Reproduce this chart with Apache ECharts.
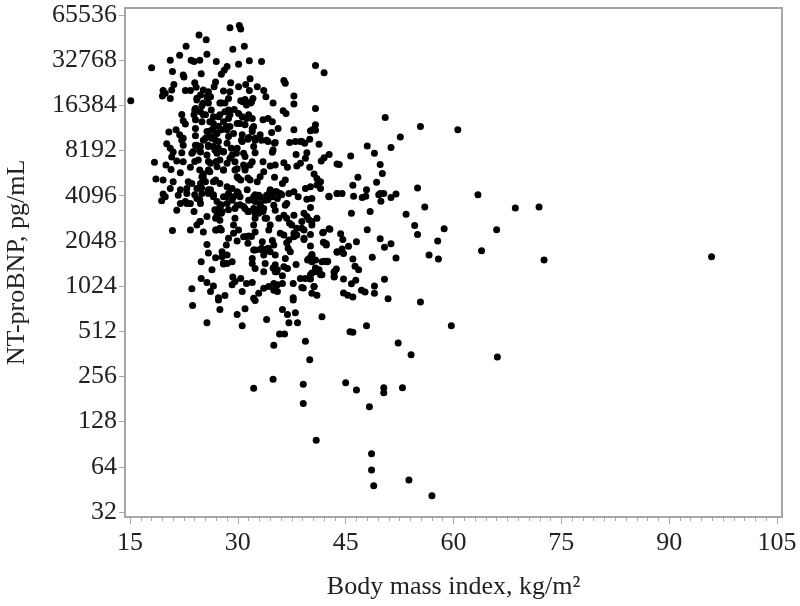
<!DOCTYPE html>
<html>
<head>
<meta charset="utf-8">
<title>NT-proBNP vs BMI</title>
<style>
html, body { margin: 0; padding: 0; background: #fff; }
#main { width: 800px; height: 606px; }
</style>
<script src="https://cdn.jsdelivr.net/npm/echarts@6/dist/echarts.min.js"></script>
</head>
<body>
<div id="main"></div>
<script>
// tick labels
var xTicks = [15, 30, 45, 60, 75, 90, 105];
var yTicks = [32, 64, 128, 256, 512, 1024, 2048, 4096, 8192, 16384, 32768, 65536];

// [bmi, log2 of NT-proBNP]
var points = [
[15.1,14.10],[18.0,14.83],[20.6,15.0],[21.9,15.11],[22.8,15.31],[24.6,15.56],[25.6,15.45],[25.7,15.13],[28.9,15.72],[30.2,15.77],[30.4,15.69],
[29.3,15.24],[30.9,15.31],[23.5,15.0],[23.9,14.97],[24.7,15.0],[27.0,14.97],[30.1,14.91],[31.6,14.99],[33.3,14.97],[28.5,14.86],[28.1,14.78],[27.7,14.69],
[20.9,14.75],[22.4,14.67],[22.5,14.63],[24.9,14.70],[40.8,14.88],[42.0,14.72],[31.7,14.59],[29.0,14.50],[26.9,14.52],[26.7,14.41],[24.0,14.50],[24.2,14.40],
[21.1,14.46],[20.8,14.34],[19.6,14.33],[19.5,14.21],[19.9,14.27],[20.6,14.15],[22.7,14.33],[23.4,14.33],[30.1,14.41],[31.1,14.46],[32.7,14.41],[31.6,14.33],
[33.6,14.33],[33.9,14.19],[36.4,14.55],[36.6,14.49],[37.8,14.21],[37.8,14.03],[34.9,14.05],[28.0,14.32],[28.9,14.30],[25.2,14.34],[25.9,14.30],[24.8,14.23],
[25.7,14.19],[24.3,14.16],[26.2,14.19],[28.7,14.15],[27.5,14.05],[28.2,14.05],[30.4,14.10],[31.0,14.13],[32.1,14.15],[31.8,14.05],[31.2,14.01],[25.9,14.05],
[25.0,13.99],[24.1,13.93],[24.8,13.86],[23.9,13.79],[40.8,13.93],[36.3,13.88],[36.7,13.82],[29.5,13.91],[30.1,13.82],[22.2,13.80],[22.4,13.66],[22.7,13.59],
[25.5,13.79],[26.6,13.75],[27.5,13.79],[28.2,13.86],[28.7,13.71],[30.6,13.75],[31.5,13.79],[32.0,13.71],[33.5,13.68],[34.2,13.71],[34.8,13.64],[40.8,13.57],
[40.5,13.47],[40.1,13.44],[40.8,13.45],[37.8,13.46],[35.6,13.49],[34.7,13.40],[20.4,13.41],[21.4,13.46],[21.9,13.35],[22.4,13.27],[22.2,13.23],[24.1,13.68],
[25.0,13.64],[24.1,13.49],[24.1,13.33],[26.6,13.60],[27.3,13.54],[28.0,13.64],[28.9,13.53],[29.9,13.60],[31.0,13.57],[32.0,13.49],[32.2,13.53],[25.7,13.42],
[26.4,13.46],[27.1,13.38],[26.2,13.31],[25.5,13.27],[26.9,13.23],[28.5,13.46],[28.7,13.31],[28.5,13.16],[30.6,13.35],[31.5,13.29],[32.4,13.27],[33.1,13.35],
[34.0,13.23],[35.2,13.18],[30.6,13.2],[32.0,13.42],[37.2,13.18],[38.0,13.2],[38.9,13.2],[40.0,13.25],[41.3,13.14],[20.1,13.15],[20.6,13.05],[24.1,13.12],
[24.8,13.09],[25.9,13.12],[26.6,13.09],[27.3,13.05],[22.4,13.12],[32.2,13.09],[29.9,13.05],[34.9,13.01],[39.3,13.16],[38.7,13.2],
[18.4,12.74],[20.0,12.68],[20.7,12.58],[21.0,12.97],[22.2,12.95],[20.8,12.86],[21.5,12.77],[22.4,12.75],[23.4,12.63],[22.0,12.51],[23.6,12.94],[24.8,12.97],
[25.7,12.9],[24.5,12.79],[26.2,12.72],[27.1,12.94],[28.0,12.97],[29.2,12.9],[30.8,12.94],[32.4,12.95],[27.5,12.79],[28.5,12.72],[29.6,12.75],[30.8,12.68],
[32.0,12.75],[27.1,12.64],[25.9,12.57],[25.2,12.48],[28.0,12.57],[29.9,12.60],[33.5,12.75],[34.8,12.96],[38.1,12.91],[39.6,12.95],[39.4,12.83],[36.4,12.73],
[35.2,12.68],[34.5,12.66],[36.9,12.63],[42.7,12.91],[42.0,12.84],[41.6,12.77],[38.7,12.72],[38.2,12.66],[40.0,12.63],[43.8,12.70],[33.6,12.53],[33.1,12.42],
[31.0,12.57],[29.9,12.42],[30.4,12.35],[32.7,12.31],[31.7,12.35],[35.1,12.41],[36.6,12.35],[36.2,12.27],[40.6,12.48],[41.0,12.38],[41.5,12.31],[41.0,12.24],
[40.1,12.2],[39.4,12.16],[41.5,12.16],[18.6,12.37],[19.6,12.35],[21.0,12.31],[20.6,12.16],[23.1,12.31],[23.6,12.27],[22.9,12.16],[25.0,12.42],[25.5,12.31],
[24.8,12.27],[24.3,12.16],[25.0,12.05],[26.9,12.35],[27.5,12.27],[28.5,12.2],[22.0,12.13],[22.9,12.05],[21.7,12.01],[19.6,12.04],[19.4,11.89],[19.9,11.98],
[26.2,12.13],[26.6,11.98],[25.9,12.05],[29.2,12.16],[29.9,12.09],[28.7,12.05],[28.0,11.98],[34.5,12.13],[35.2,12.09],[35.9,12.05],[34.0,12.01],[34.8,11.98],
[35.5,11.94],[37.8,12.09],[37.1,12.05],[43.8,12.05],[42.7,11.98],[31.3,12.13],[32.2,11.98],[32.9,12.01],[32.4,11.87],[31.5,11.9],[30.3,11.98],[38.4,11.98],
[39.6,11.92],[40.3,11.94],[40.1,11.74],[24.3,11.94],[24.8,11.83],[22.7,11.87],[23.4,11.83],[22.0,11.83],[21.5,11.68],[23.9,11.65],[27.1,11.87],[27.5,11.76],
[26.9,11.68],[27.8,11.65],[27.1,11.57],[28.5,11.83],[29.2,11.9],[29.9,11.79],[29.6,11.72],[30.8,11.76],[31.5,11.65],[32.2,11.72],[33.1,11.79],[33.8,11.9],
[33.6,11.72],[32.9,11.61],[32.4,11.5],[35.0,11.79],[35.2,11.68],[36.6,11.79],[36.4,11.57],[35.7,11.5],[36.8,11.5],[37.8,11.57],[39.2,11.61],[39.6,11.54],
[41.0,11.5],[40.3,11.43],[38.9,11.43],[38.2,11.28],[39.2,11.24],[40.3,11.35],[29.6,11.5],[29.4,11.35],[27.5,11.46],[26.9,11.5],[25.7,11.54],[24.8,11.43],
[24.3,11.35],[27.5,11.28],[26.9,11.24],[25.2,11.2],[23.4,11.24],[20.9,11.23],[34.0,11.5],[34.5,11.35],[34.3,11.24],[32.2,11.35],[32.4,11.2],[30.1,11.24],
[29.4,11.17],[37.5,11.35],[37.8,11.17],[35.9,11.17],[36.4,11.13],[39.2,11.06],[37.8,11.09],[38.9,11.28],[37.1,11.02],[41.8,11.18],[42.8,11.26],[28.7,11.06],
[29.9,11.0],[28.4,10.91],[30.8,11.09],[31.5,11.11],[31.4,10.95],[25.7,10.92],[25.9,10.73],[26.9,10.63],[33.4,10.98],[34.8,11.01],[36.8,10.96],[37.0,10.84],
[37.3,10.76],[40.1,10.89],[42.0,10.96],[42.3,10.91],[43.8,10.76],[32.2,10.8],[33.1,10.81],[33.8,10.8],[34.5,10.76],[35.2,10.69],[33.6,10.69],[27.8,10.76],
[28.5,10.69],[27.8,10.65],[24.9,10.54],[32.0,10.61],[32.0,10.5],[32.4,10.39],[33.8,10.5],[33.6,10.32],[35.2,10.47],[35.5,10.36],[36.6,10.61],[36.4,10.43],
[36.9,10.39],[35.2,10.32],[38.1,10.48],[39.9,10.61],[40.3,10.69],[40.3,10.54],[41.7,10.54],[42.4,10.54],[28.0,10.49],[28.5,10.5],[29.2,10.54],[26.4,10.36],
[40.8,10.39],[41.0,10.32],[41.5,10.25],[40.1,10.25],[39.4,10.17],[38.7,10.17],[43.4,10.32],[43.4,10.21],[36.2,10.23],[24.9,10.17],[25.7,10.08],[26.6,10.0],
[26.2,9.88],[23.6,9.94],[29.3,10.2],[30.4,10.17],[29.2,10.03],[29.6,10.1],[31.2,10.06],[32.0,10.08],[33.6,9.95],[34.3,9.99],[35.0,10.06],[35.5,10.03],
[36.2,10.06],[35.0,9.91],[35.5,9.88],[37.7,10.06],[38.9,9.97],[40.6,9.99],[30.6,9.88],[32.9,9.84],[32.2,9.73],[27.3,9.74],[28.2,9.79],[37.7,9.74],[40.3,9.84],[41.0,9.8],
[23.7,9.57],[27.3,9.69],[32.4,9.68],[37.7,9.69],[27.5,9.48],[31.0,9.5],[29.9,9.37],[25.7,9.19],[30.6,9.12],[34.0,9.26],[36.2,9.48],[36.9,9.37],[38.0,9.41],
[37.1,9.19],[38.3,9.19],[41.7,9.32],[35.8,8.94],[36.5,8.94],[35.0,8.69],[39.4,8.78],[40.0,8.37],[34.9,7.94],[32.2,7.74],[39.1,7.83],[39.1,7.4],[40.9,6.59],
[50.5,13.73],[55.4,13.53],[60.6,13.46],[52.6,13.3],[51.3,13.07],[48.0,13.1],[49.0,12.94],[45.7,12.88],[44.1,12.69],[49.8,12.69],[50.1,12.49],[46.7,12.41],
[49.3,12.3],[46.0,12.23],[55.0,12.17],[63.4,12.02],[47.9,12.13],[43.8,12.05],[44.5,12.05],[42.65,11.99],[46.1,11.99],[47.3,11.96],[47.8,11.99],[49.8,12.05],
[50.3,12.05],[49.6,12.02],[49.9,11.88],[51.3,11.96],[52.0,12.04],[56.0,11.75],[68.6,11.73],[45.8,11.61],[48.4,11.65],[53.4,11.59],[54.6,11.34],[55.0,11.14],
[58.7,11.27],[66.0,11.25],[48.0,11.25],[57.8,11.0],[56.6,10.69],[57.9,10.6],[63.9,10.78],[49.8,11.05],[51.3,10.94],[50.4,10.86],[48.7,10.64],[52.0,10.62],
[44.3,11.16],[44.6,11.03],[45.4,10.88],[44.5,10.82],[43.8,10.75],[44.7,10.72],[46.5,10.98],[42.7,11.27],[41.9,11.19],[41.9,10.97],[42.3,10.94],[46.0,10.6],
[46.3,10.44],[46.8,10.36],[42.0,10.55],[42.5,10.55],[40.8,10.58],[39.7,10.58],[40.3,10.7],[43.7,10.38],[43.4,10.3],[43.4,10.2],[40.8,10.4],[41.3,10.36],
[41.7,10.25],[40.3,10.29],[40.1,10.16],[44.7,10.16],[46.4,10.13],[45.8,10.05],[50.4,10.15],[49.0,10.0],[49.0,9.84],[44.7,9.85],[45.3,9.8],[46.0,9.76],
[47.2,9.91],[47.7,9.87],[50.9,9.72],[55.4,9.65],[40.6,9.99],[39.1,9.96],[39.9,11.47],[40.1,11.14],[39.2,11.03],[47.9,9.12],[59.7,9.12],[45.6,8.99],[46.0,8.98],
[52.3,8.74],[54.1,8.48],[66.1,8.43],[45.0,7.86],[46.5,7.70],[50.3,7.75],[50.3,7.64],[52.9,7.75],[48.3,7.33],[48.6,6.29],[48.6,5.93],[48.9,5.58],[53.8,5.71],
[57.0,5.36],[95.9,10.65],[72.6,10.58],[71.9,11.75],
// denser middle of the cloud
[24.3,14.12],[25.2,14.05],[24.0,13.9],[25.2,13.79],[26.3,13.9],[27.3,13.75],[26.1,13.64],[26.8,13.53],[25.9,13.42],[27.0,13.38],[27.7,13.46],[26.35,13.27],
[27.3,13.2],[25.2,13.23],[24.3,13.12],[24.7,13.01],[25.9,13.09],[26.8,13.01],[23.8,12.98],[28.0,12.98],[29.1,13.05],[29.8,12.94],[31.0,12.87],[28.9,12.83],
[27.0,12.76],[25.9,12.76],[24.0,12.76],[24.7,12.57],[26.1,12.53],[28.0,12.57],[29.6,12.57],[31.0,12.61],[31.7,12.68],[30.05,12.39],[31.4,12.39],[25.2,12.39],
[26.6,12.31],[28.4,13.53],[29.4,13.38],[30.3,13.6],[28.9,13.79],[31.2,13.71],[30.7,14.08],[31.9,14.08],[27.7,14.05],[28.7,13.9],[30.5,13.23],[31.4,13.25],
[32.4,13.23],[33.3,13.23],[34.2,13.2],[35.1,13.16],
[34.45,12.09],[35.4,12.09],[36.1,12.02],[34.2,11.91],[33.1,11.83],[32.8,11.69],[33.5,11.65],[32.4,11.61],[31.4,11.65],[31.0,11.72],[30.3,11.8],[29.4,11.98],
[30.05,12.06],[28.4,11.98],[27.7,11.8],[26.8,11.69],[27.7,11.61],[28.7,11.69],[26.6,12.02],[25.9,12.13],[24.96,12.17],[24.0,12.02],[24.7,11.91],[22.9,11.83],
[32.4,12.02],[31.9,11.91],[33.1,11.98],[27.05,11.24],[27.7,11.24],[24.7,11.43],[31.2,11.1],[31.9,11.1],[33.3,10.84],[32.4,10.8],[34.2,10.84],[35.0,10.91],
[33.8,11.5],[36.8,11.83],[37.2,11.39],[38.2,11.13],[34.9,10.4],[35.4,10.32],[28.0,10.51]
];

//主图
var chart = echarts.init(document.getElementById("main"));

var minorTicks = [];
for (var v = 15; v <= 105; v += 1.5) {
    if ((v - 15) % 15 != 0) minorTicks.push(v);
}

var serif = '"Liberation Serif", serif';
var axisGray = "#a6a6a6";
var textColor = "#222";

chart.setOption({
    animation: false,
    grid: {
        left: 125, right: 18, top: 8, bottom: 89,
        outerBoundsMode: "none",
        show: true,
        borderColor: axisGray,
        borderWidth: 2,
        backgroundColor: "#fff"
    },
    xAxis: [{
        type: "value",
        min: 14.3,
        max: 105.7,
        splitLine: { show: false },
        axisLine: { show: false },
        axisTick: { show: true, customValues: xTicks, length: 7, lineStyle: { color: axisGray, width: 1 } },
        axisLabel: { customValues: xTicks, color: textColor, fontFamily: serif, fontSize: 26, margin: 13 },
        name: "Body mass index, kg/m²",
        nameLocation: "middle",
        nameGap: 57,
        nameTextStyle: { color: textColor, fontFamily: serif, fontSize: 26 }
    }, {
        type: "value",
        position: "bottom",
        min: 14.3,
        max: 105.7,
        splitLine: { show: false },
        axisLine: { show: false },
        axisLabel: { show: false },
        axisTick: { show: true, customValues: minorTicks, length: 4, lineStyle: { color: axisGray, width: 1 } }
    }],
    yAxis: {
        type: "log",
        logBase: 2,
        min: Math.pow(2, 4.89),
        max: Math.pow(2, 16.155),
        splitLine: { show: false },
        axisLine: { show: false },
        axisTick: { show: true, customValues: yTicks, length: 6, lineStyle: { color: axisGray, width: 1 } },
        axisLabel: {
            customValues: yTicks,
            color: textColor,
            fontFamily: serif,
            fontSize: 26,
            margin: 8,
            formatter: function (val) { return String(Math.round(val)); }
        },
        name: "NT-proBNP, pg/mL",
        nameLocation: "middle",
        nameGap: 95,
        nameTextStyle: { color: textColor, fontFamily: serif, fontSize: 26 }
    },
    series: [{
        type: "scatter",
        symbolSize: 7,
        itemStyle: { color: "#000", opacity: 1 },
        data: points.map(function (p) { return [p[0], Math.pow(2, p[1])]; })
    }]
});
</script>
</body>
</html>
